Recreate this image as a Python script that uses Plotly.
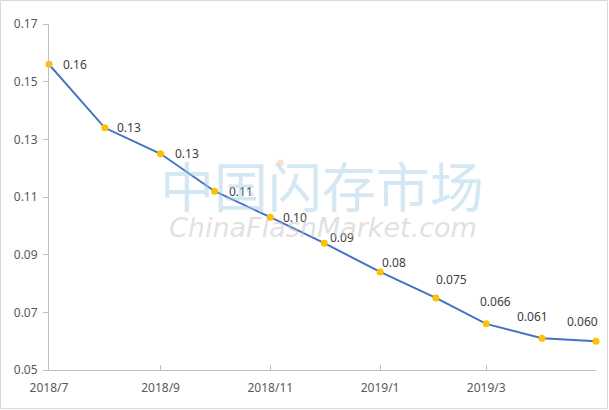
import plotly.graph_objects as go

months = ["2018-07-01", "2018-08-01", "2018-09-01", "2018-10-01", "2018-11-01", "2018-12-01",
          "2019-01-01", "2019-02-01", "2019-03-01", "2019-04-01", "2019-05-01"]
prices = [0.156, 0.134, 0.125, 0.112, 0.103, 0.094, 0.084, 0.075, 0.066, 0.061, 0.060]
point_labels = ["0.16", "0.13", "0.13", "0.11", "0.10", "0.09", "0.08", "0.075", "0.066", "0.061", "0.060"]
# label offsets from the point, in pixels (left edge of text, vertical centre)
label_dx = [12, 10, 12, 12, 11, 4, 0, -2, -8, -27, -31]
label_dy = [0, 0, 0, 0, 0, 6, 9, 18, 22, 22, 20]

fig = go.Figure()
fig.add_trace(go.Scatter(
    x=months, y=prices, mode="lines+markers",
    line=dict(color="#4472C4", width=2),
    marker=dict(color="#FFC000", size=7),
    cliponaxis=False, showlegend=False,
))

for xv, yv, t, dx, dy in zip(months, prices, point_labels, label_dx, label_dy):
    fig.add_annotation(x=xv, y=yv, text=t, showarrow=False, xanchor="left", yanchor="middle",
                       xshift=dx, yshift=dy,
                       font=dict(family="Noto Sans", size=12, color="#404040"))

W, H = 609, 410
ml, mr, mt, mb = 49, 13, 24, 40
pw, ph = W - ml - mr, H - mt - mb

def px(xp):
    return (xp - ml) / pw

def py(yp):
    return 1 - (yp - mt) / ph

fig.add_annotation(text="中国闪存市场", xref="paper", yref="paper",
                   x=px(322), y=py(184), showarrow=False,
                   font=dict(family="Noto Sans CJK SC", size=54, color="rgba(160,205,228,0.45)"))
fig.add_annotation(text="<i>ChinaFlashMarket.com</i>", xref="paper", yref="paper",
                   x=px(323), y=py(227), showarrow=False,
                   font=dict(family="DejaVu Sans", size=27, color="rgba(195,195,195,0.5)"))
fig.add_shape(type="circle", xref="paper", yref="paper",
              x0=px(277.5), x1=px(284), y0=py(166), y1=py(159.5),
              fillcolor="rgba(250,205,160,0.6)", line=dict(width=0))

fig.add_shape(type="rect", xref="paper", yref="paper",
              x0=px(0.5), x1=px(W - 1.5), y0=py(H - 1.5), y1=py(0.5),
              line=dict(color="#d9d9d9", width=1), layer="below")

fig.update_layout(
    width=W, height=H, margin=dict(l=ml, r=mr, t=mt, b=mb),
    paper_bgcolor="white", plot_bgcolor="white",
    font=dict(family="Noto Sans", size=12, color="#595959"),
    xaxis=dict(type="date", range=["2018-07-01", "2019-05-01"],
               tick0="2018-07-01", dtick="M2", tickformat="%Y/%-m",
               showgrid=False, zeroline=False, automargin=False,
               showline=True, linecolor="#bfbfbf", linewidth=1,
               ticks="inside", ticklen=5, tickcolor="#bfbfbf",
               ticklabelstandoff=7),
    yaxis=dict(range=[0.05, 0.17], dtick=0.02, tick0=0.05, tickformat=".2f",
               showgrid=False, zeroline=False, automargin=False,
               showline=True, linecolor="#bfbfbf", linewidth=1,
               ticks="outside", ticklen=5, tickcolor="#bfbfbf",
               ticklabelstandoff=3),
)

fig.write_html("out.html", config={"displayModeBar": False},
               post_script="document.body.style.margin='0';")
